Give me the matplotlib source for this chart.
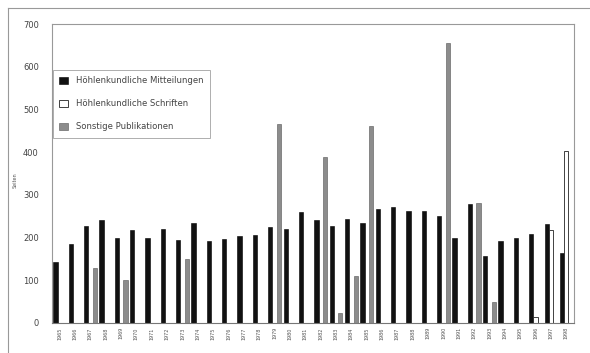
import numpy as np
import matplotlib
matplotlib.use("Agg")
import matplotlib.pyplot as plt
from matplotlib.lines import Line2D

# Jahre 1965-1998
years = [str(y) for y in range(1965, 1999)]

# Höhlenkundliche Mitteilungen (schwarz)
mitteilungen = [142, 184, 228, 240, 200, 218, 200, 220, 195, 235,
                191, 197, 203, 205, 225, 221, 260, 241, 226, 244,
                233, 267, 272, 263, 263, 251, 199, 278, 157, 191,
                199, 209, 232, 163]

# Höhlenkundliche Schriften (weiss)
schriften = [0, 0, 0, 0, 0, 0, 0, 0, 0, 0,
             0, 0, 0, 0, 0, 0, 0, 0, 0, 0,
             0, 0, 0, 0, 0, 0, 0, 0, 0, 0,
             0, 14, 218, 402]

# Sonstige Publikationen (grau)
sonstige = [0, 0, 128, 0, 100, 0, 0, 0, 150, 0,
            0, 0, 0, 0, 467, 0, 0, 388, 23, 111,
            462, 0, 0, 0, 0, 655, 0, 280, 50, 0,
            0, 0, 0, 0]

fig = plt.figure(figsize=(5.9, 3.53), dpi=100)
ax = fig.add_axes([52 / 590, 1 - 323 / 353, (574 - 52) / 590, (323 - 24) / 353])

x = np.arange(len(years))
w = 0.28
ax.bar(x - w, mitteilungen, w, color="#111111", edgecolor="#000000", linewidth=0.4,
       label="Höhlenkundliche Mitteilungen")
ax.bar(x, schriften, w, color="white", edgecolor="#222222", linewidth=0.6,
       label="Höhlenkundliche Schriften")
ax.bar(x + w, sonstige, w, color="#8c8c8c", edgecolor="#555555", linewidth=0.4,
       label="Sonstige Publikationen")

ax.set_xlim(-0.5, len(years) - 0.5)
ax.set_ylim(0, 700)
ax.set_yticks(range(0, 701, 100))
ax.set_xticks(x)
ax.set_xticklabels(years, rotation=90, fontsize=3.5, color="#555555")
ax.tick_params(axis="y", labelsize=6, colors="#444444", length=0, pad=9.5)
ax.tick_params(axis="x", length=0, pad=3)
for s in ax.spines.values():
    s.set_color("#999999")
    s.set_linewidth(0.8)
ax.spines["bottom"].set_color("#777777")

ax.set_ylabel("Seiten", fontsize=3.5, color="#555555")
ax.yaxis.set_label_coords(-0.065, 0.478)

leg = ax.legend(loc="upper left", bbox_to_anchor=(0.002, 0.846), borderaxespad=0,
                fontsize=6.1, frameon=True, fancybox=False, edgecolor="#999999",
                handlelength=1.0, handleheight=1.0, labelspacing=1.65,
                borderpad=0.75, handletextpad=1.0)
leg.get_frame().set_linewidth(0.7)
for t in leg.get_texts():
    t.set_color("#444444")

# äusserer Rahmen (Scan)
fig.add_artist(Line2D([8 / 590, 1.0], [1 - 8 / 353, 1 - 8 / 353], color="#999999", lw=0.8))
fig.add_artist(Line2D([8 / 590, 8 / 590], [0.0, 1 - 8 / 353], color="#999999", lw=0.8))

fig.savefig("out.png", dpi=100)
